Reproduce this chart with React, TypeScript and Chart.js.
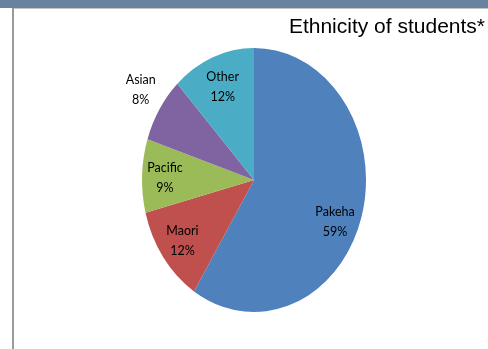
import React, { useEffect, useRef } from "react";
import { Chart, registerables } from "chart.js";

Chart.register(...registerables);

const categories = ["Pakeha", "Maori", "Pacific", "Asian", "Other"];
const shares = [59, 12, 9, 8, 12];
const colors = ["#4F81BD", "#C0504D", "#9BBB59", "#8064A2", "#4BACC6"];
// label placement: fraction of radius, angular nudge (deg)
const labelRadius = [0.79, 0.79, 0.795, 1.22, 0.76];
const labelNudge = [7.5, 0, -0.8, 1.6, 0];
const titleText = "Ethnicity of students*";

const Y_STRETCH = 132 / 112;

const ellipsePlugin = {
  id: "ellipse",
  beforeDatasetsDraw(chart: any) {
    const meta = chart.getDatasetMeta(0);
    const a = meta.data[0];
    if (!a) return;
    const ctx = chart.ctx;
    ctx.save();
    ctx.translate(a.x, a.y);
    ctx.scale(1, Y_STRETCH);
    ctx.translate(-a.x, -a.y);
  },
  afterDatasetsDraw(chart: any) {
    chart.ctx.restore();
  },
  afterDraw(chart: any) {
    const meta = chart.getDatasetMeta(0);
    const ctx = chart.ctx;
    const total = shares.reduce((s, v) => s + v, 0);
    ctx.save();
    ctx.fillStyle = "#000";
    ctx.font = '12.5px "Lato"';
    ctx.textAlign = "center";
    ctx.textBaseline = "middle";
    meta.data.forEach((arc: any, i: number) => {
      const mid = (arc.startAngle + arc.endAngle) / 2 + (labelNudge[i] * Math.PI) / 180;
      const r = arc.outerRadius * labelRadius[i];
      const x = arc.x + Math.cos(mid) * r;
      const y = arc.y + Math.sin(mid) * r * Y_STRETCH;
      const pct = Math.round((shares[i] / total) * 100) + "%";
      ctx.fillText(categories[i], x, y - 10);
      ctx.fillText(pct, x, y + 10);
    });
    ctx.restore();
  },
};

export default function App() {
  const ref = useRef<HTMLCanvasElement>(null);
  useEffect(() => {
    if (!ref.current) return;
    const chart = new Chart(ref.current, {
      type: "pie",
      data: {
        labels: categories,
        datasets: [
          {
            data: shares,
            backgroundColor: colors,
            borderWidth: 0,
            clip: false,
          } as any,
        ],
      },
      options: {
        animation: false,
        responsive: false,
        devicePixelRatio: 1,
        layout: { padding: { left: 23, right: 3, top: 5, bottom: 57 } },
        plugins: {
          legend: { display: false },
          tooltip: { enabled: false },
          title: {
            display: true,
            text: titleText,
            align: "end",
            color: "#000",
            font: { family: '"Liberation Sans", Arial', size: 21, weight: "normal" },
            padding: { top: 10, bottom: 27.8 },
          },
        },
      },
      plugins: [ellipsePlugin],
    });
    return () => chart.destroy();
  }, []);

  return (
    <div style={{ position: "fixed", left: 0, top: 0, width: 488, height: 349, background: "#fff", overflow: "hidden" }}>
      <div style={{ position: "absolute", left: 0, top: 0, width: 488, height: 8, background: "#6982a0" }} />
      <div style={{ position: "absolute", left: 12, top: 8, width: 476, height: 1, background: "#c4c4c4" }} />
      <div style={{ position: "absolute", left: 12, top: 8, width: 2, height: 341, background: "#9a9a9a" }} />
      <canvas ref={ref} width={488} height={349} style={{ position: "absolute", left: 0, top: 0, width: 488, height: 349 }} />
    </div>
  );
}
